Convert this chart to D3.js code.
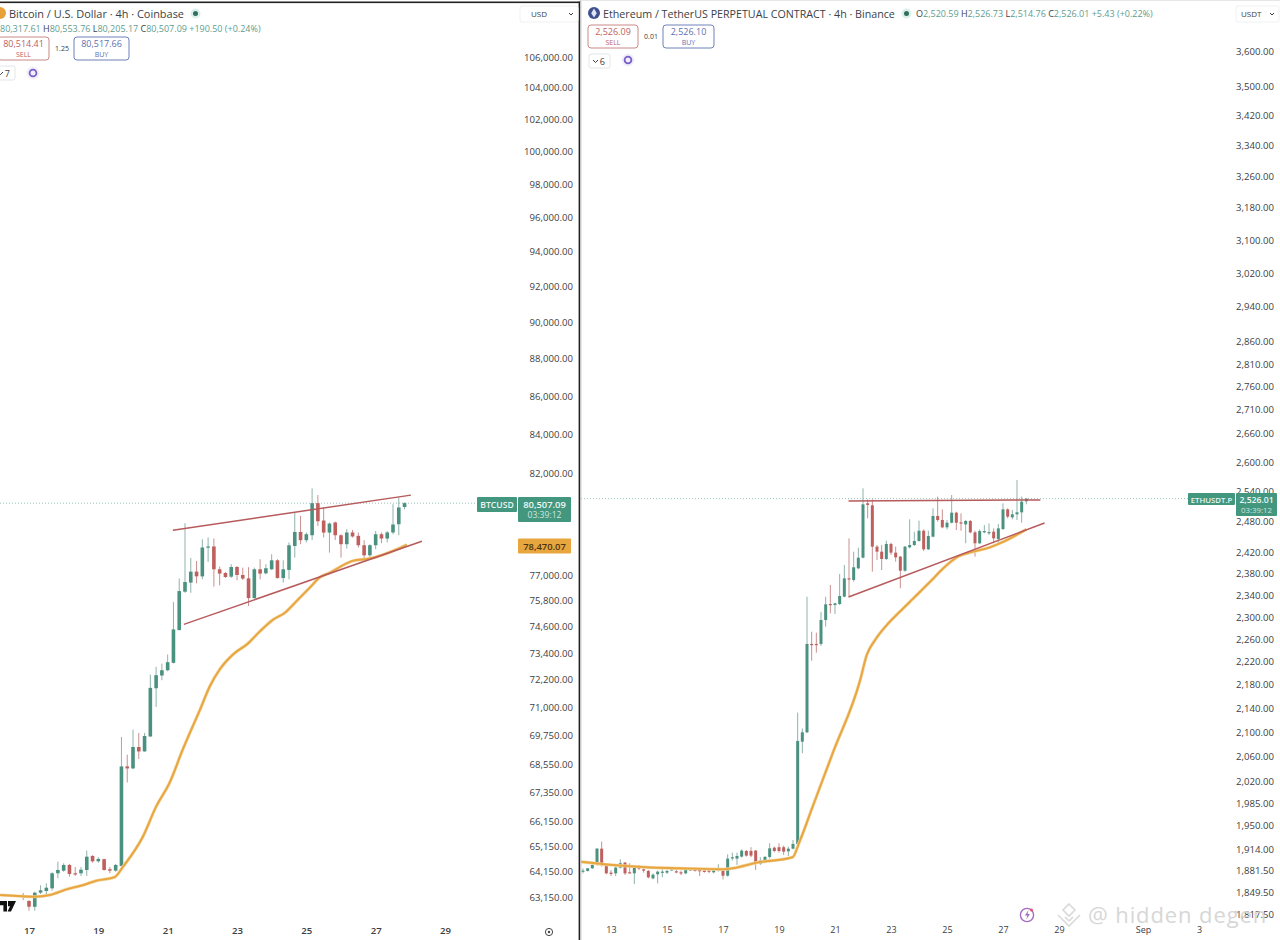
<!DOCTYPE html>
<html>
<head>
<meta charset="utf-8">
<script src="https://cdn.jsdelivr.net/npm/d3@7"></script>
<style>
  html, body { margin: 0; padding: 0; background: #fff; overflow: hidden; }
  text { font-family: "Open Sans", "Noto Sans", sans-serif; }
</style>
</head>
<body>
<script>
// candles are counted in 4h steps from the 00:00 candle of the first labelled day
var btcFirst = -1;
var btcOpen = [63210,62994,62770,63320,63384,63488,64080,64183,64410,64080,64080,64211,64770,64555,64640,64240,64183,64370,68445,68360,69270,69080,69720,71825,72390,72627,72958,74445,76230,76660,77180,76955,78335,78385,77291,77115,76940,77400,77020,76860,75930,77291,77100,77291,77720,76875,77260,78410,79090,78690,78930,80507,79650,79060,79555,78930,78495,79065,78900,78445,77960,78445,78980,78770,79065,79470,80317];
var btcHigh = [63310,63033,63356,63608,63686,64120,64541,64478,64450,64330,64330,64982,64797,64720,64660,64330,64450,69700,68940,70014,69870,69870,72435,72780,72930,73335,75745,76850,79520,77833,77690,78737,78820,78770,77420,77160,77530,77450,77370,77390,77370,77770,77530,78010,77770,77720,78580,80045,79880,79065,81245,80910,80295,79555,79600,78980,79225,79190,79065,78690,78495,79140,79065,79140,80457,80790,80553.76];
var btcLow = [63030,62619,62620,63267,63189,63395,63883,64143,63947,63975,63975,63975,64500,64500,64183,64080,64143,64280,67770,68330,68760,69070,69700,71003,72180,72580,72930,74445,76180,76180,76625,76815,77640,76470,76530,76880,76880,76770,76780,75560,75900,76815,77050,77260,76850,76660,76815,77850,78495,78580,78700,79385,78820,78090,78700,77850,78285,78820,78335,77770,77770,78252,78545,78580,78980,78930,80205.17];
var btcClose = [63150,62773,63317,63411,63513,64080,64211,64410,64053,64040,64223,64740,64555,64650,64211,64183,64410,68445,68360,69270,69080,69740,71842,72405,72627,72988,74478,76260,76686,77180,76955,78335,78385,77291,77085,76925,77400,77020,76850,75930,77291,77085,77340,77720,76875,77291,78445,79090,78690,78980,80507,79615,79060,79500,78930,78495,79065,78870,78445,77960,78445,78980,78770,79065,79455,80295,80507.09];
var btcEmaIdx = [-5,-2,1,3.6,6.5,9.4,11.7,14.8,16.3,19.7,22,24.3,26.6,29.6,31.3,33,35.3,37.9,40,42.3,44.3,46.3,48.6,50.3,52.1,56,59,63,65.4];
var btcEma = [63228,63190,63160,63228,63450,63620,63790,63925,64350,65540,66770,67740,69154,70885,71914,72659,73336,73836,74400,74939,75250,75791,76421,76896,77134,77690,77805,78170,78470];
var btcUpperIdx = [24.9,66.1], btcUpper = [79176,80907];
var btcLowerIdx = [26.8,68], btcLower = [74708,78640];
var btcTicks = [106000,104000,102000,100000,98000,96000,94000,92000,90000,88000,86000,84000,82000,77000,75800,74600,73400,72200,71000,69750,68550,67350,66150,65150,64150,63150];
var btcDayIdx = [0,12,24,36,48,60,72];
var btcDayLabels = ["17","19","21","23","25","27","29"];

var ethFirst = -6;
var ethOpen = [1880.3,1881.3,1885.3,1890.3,1914.8,1890.3,1878.8,1877.8,1886.3,1893.8,1879.3,1877.8,1887.3,1883.8,1881.3,1870.3,1876.3,1879.3,1878.8,1882.8,1880.8,1879.3,1877.8,1882.8,1883.3,1882.8,1881.8,1881.8,1879.3,1881.8,1882.8,1874.3,1900.8,1899.8,1902.8,1911.3,1911.3,1911.8,1891.8,1896.8,1902.3,1916.3,1917,1917,1910.8,1914.8,1922,2084,2099.5,2251.6,2251.6,2251.6,2294.7,2323.9,2322,2323.9,2337.5,2371.6,2368.5,2390.5,2410.7,2516.7,2512.7,2431.8,2422.2,2408.2,2437,2420.3,2412.7,2386,2430.5,2435,2442.8,2462.7,2426.7,2451.1,2491.6,2483.7,2469.3,2478.4,2498.1,2479,2475.1,2481.7,2459.5,2438.3,2460.1,2459.5,2460.8,2446.6,2466,2504.7,2488.9,2494.9,2498.8,2520.59];
var ethHigh = [1885.3,1885.8,1891.3,1915.8,1925.5,1891.3,1882.8,1887.8,1898.8,1894.8,1892.8,1888.8,1890.3,1885.3,1882.8,1877.8,1881.8,1885.3,1882.8,1885.3,1882.8,1881.8,1884.3,1885.3,1884.8,1883.8,1882.8,1882.8,1883.8,1891.3,1885.3,1906.3,1908.8,1908.8,1913.8,1912.8,1917,1912.8,1901.8,1903.8,1923,1918,1923,1919.5,1918,1928,2132.4,2106,2337.4,2273.5,2271.7,2309.3,2337.4,2359.2,2326.4,2379.8,2396.8,2447.9,2422.2,2429.9,2546.6,2524.6,2524.6,2435,2435,2443.4,2439.5,2431.8,2413.9,2433.1,2485,2460.8,2482.4,2465.3,2462.7,2506.7,2530,2504.7,2483.7,2533.3,2500.1,2496.8,2483.7,2483.7,2462.7,2465.3,2473.8,2477,2467.3,2475.8,2516.7,2506.7,2503.4,2563.5,2530,2526.73];
var ethLow = [1877.8,1880.3,1884.3,1889.3,1887.8,1876.3,1873.8,1873.8,1885.3,1875.3,1877.8,1861.8,1882.8,1878.8,1870.3,1868.8,1862.8,1871.8,1876.8,1881.8,1877.8,1875.3,1876.3,1881.8,1880.3,1873.8,1878.8,1877.8,1877.8,1880.3,1868.8,1872.8,1896.8,1890.3,1901.3,1902.8,1901.8,1882.8,1890.3,1892.8,1899.8,1909.3,1908.8,1905.3,1903.8,1913.8,1920.3,2065,2098,2222,2236,2248,2282.6,2306.8,2305.6,2322,2336.2,2337.5,2365.4,2388.6,2409.5,2487,2384.2,2406.3,2387.3,2406.3,2415.9,2403.1,2352.9,2384.2,2428.6,2433.1,2441.5,2423.5,2425.4,2449.9,2480.4,2467.3,2465.3,2477,2464,2462.7,2438.3,2457.5,2412.7,2437,2457.5,2454.2,2438.3,2435,2464,2487,2485,2483.7,2478.4,2514.76];
var ethClose = [1881.8,1885.3,1890.3,1914.8,1890.3,1877.8,1876.8,1886.3,1892.8,1877.8,1878.8,1886.3,1884.8,1881.8,1871.8,1875.8,1880.3,1880.3,1881.3,1883.8,1879.3,1877.8,1882.8,1883.8,1881.3,1880.8,1879.8,1880.3,1882.3,1883.8,1874.3,1899.8,1901.8,1903.8,1911.8,1904.3,1904.3,1891.8,1896.8,1902.3,1915.3,1911.3,1911.3,1910.3,1914.8,1922,2085.2,2099.5,2251.6,2249.8,2250.5,2294.7,2323.3,2322,2325.1,2338.7,2371.6,2369.7,2392.4,2410.7,2514.7,2513.4,2431.8,2422.2,2408.2,2437,2420.3,2411.4,2386,2431.8,2435,2442.8,2462.7,2426.7,2452.4,2491.6,2483.7,2469.3,2478.4,2498.1,2478.4,2477.8,2481.7,2459.5,2438.3,2462,2462,2460.1,2447.9,2467.3,2504.7,2490.3,2494.9,2498.8,2520,2526.01];
var ethEmaIdx = [-6.7,0.4,7.6,14.7,23.9,26.1,31.2,38.9,40.4,43.2,47.5,53.4,54.8,56.6,59.1,61.9,64.8,68.4,71.2,74.1,77.6,81.2,84,89];
var ethEma = [1895.2,1890.2,1886.8,1885.3,1883.8,1885.3,1893.7,1901.8,1925.4,1979.4,2065,2188.3,2232,2258.7,2285.6,2309.8,2334.4,2365.3,2390.5,2411.4,2422.1,2430.6,2441,2465.4];
var ethUpperIdx = [50.9,92], ethUpper = [2521.3,2523.3];
var ethLowerIdx = [50.9,92.9], ethLower = [2336.8,2477.8];
var ethTicks = [3600,3500,3420,3340,3260,3180,3100,3020,2940,2860,2810,2760,2710,2660,2600,2540,2480,2420,2380,2340,2300,2260,2220,2180,2140,2100,2060,2020,1985,1950,1914,1881.5,1849.5,1817.5];
var ethDayIdx = [0,12,24,36,48,60,72,84,96,114,126];
var ethDayLabels = ["13","15","17","19","21","23","25","27","29","Sep","3"];

var green = "#4b917f", red = "#bf5f5e", wickGreen = "#8fb3aa", wickRed = "#c98f8e";
var orange = "#e8a63f", trend = "#b65a5c", teal = "#43977f", textCol = "#3c4043";

var fmt = d3.format(",.2f");

var svg = d3.select("body").append("svg")
  .attr("width", 1280)
  .attr("height", 940)
  .style("display", "block")
  .style("background", "#fff");

var defs = svg.append("defs");

function drawChart(cfg) {
  var clipId = "clip-" + cfg.name;
  defs.append("clipPath").attr("id", clipId).append("rect")
    .attr("x", cfg.left).attr("y", 0).attr("width", cfg.axisX - cfg.left).attr("height", 922);

  var x = d3.scaleLinear().domain(cfg.xDomain).range(cfg.xRange);
  var y = d3.scaleLog().domain(cfg.yDomain).range(cfg.yRange);

  var candles = cfg.open.map(function(o, k) {
    return { i: k + cfg.first, o: o, h: cfg.high[k], l: cfg.low[k], c: cfg.close[k] };
  });

  var g = svg.append("g").attr("clip-path", "url(#" + clipId + ")");

  // last price dotted line
  g.append("line")
    .attr("x1", cfg.left).attr("x2", cfg.lastLabelX)
    .attr("y1", y(cfg.last)).attr("y2", y(cfg.last))
    .attr("stroke", "#7fb3a6").attr("stroke-width", 0.8).attr("stroke-dasharray", "1 2");

  g.selectAll(".wick").data(candles).enter().append("line")
    .attr("class", "wick")
    .attr("x1", function(d) { return x(d.i); })
    .attr("x2", function(d) { return x(d.i); })
    .attr("y1", function(d) { return y(d.h); })
    .attr("y2", function(d) { return y(d.l); })
    .attr("stroke", function(d) { return d.c >= d.o ? wickGreen : wickRed; })
    .attr("stroke-width", 1);

  g.selectAll(".body").data(candles).enter().append("rect")
    .attr("class", "body")
    .attr("x", function(d) { return x(d.i) - cfg.bodyW / 2; })
    .attr("width", cfg.bodyW)
    .attr("y", function(d) { return y(Math.max(d.o, d.c)); })
    .attr("height", function(d) { return Math.max(1.2, Math.abs(y(d.o) - y(d.c))); })
    .attr("fill", function(d) { return d.c >= d.o ? green : red; });

  // moving average, with the soft halo it has in the screenshot
  var emaPts = cfg.emaIdx.map(function(v, k) { return [v, cfg.ema[k]]; });
  var lineGen = d3.line()
    .x(function(d) { return x(d[0]); })
    .y(function(d) { return y(d[1]); })
    .curve(d3.curveMonotoneX);
  g.append("path").attr("d", lineGen(emaPts)).attr("fill", "none")
    .attr("stroke", "#f3d39f").attr("stroke-width", 3.2);
  g.append("path").attr("d", lineGen(emaPts)).attr("fill", "none")
    .attr("stroke", orange).attr("stroke-width", 1.9);

  // trend lines
  [[cfg.upperIdx, cfg.upper], [cfg.lowerIdx, cfg.lower]].forEach(function(t) {
    g.append("line")
      .attr("x1", x(t[0][0])).attr("x2", x(t[0][1]))
      .attr("y1", y(t[1][0])).attr("y2", y(t[1][1]))
      .attr("stroke", trend).attr("stroke-width", 1.5);
  });

  // price axis
  var yAxis = d3.axisLeft(y).tickValues(cfg.ticks).tickSize(0).tickPadding(0).tickFormat(fmt);
  var ya = svg.append("g").attr("transform", "translate(" + cfg.axisRight + ",0)").call(yAxis);
  ya.select(".domain").remove();
  ya.selectAll("text").attr("font-size", 9.6).attr("fill", textCol)
    .style("font-family", '"Open Sans", sans-serif');

  // time axis
  var xAxis = d3.axisBottom(x).tickValues(cfg.dayIdx).tickSize(0).tickPadding(0)
    .tickFormat(function(d, k) { return cfg.dayLabels[k]; });
  var xa = svg.append("g").attr("transform", "translate(0,927)").call(xAxis);
  xa.select(".domain").remove();
  xa.selectAll("text").attr("font-size", cfg.dayFont).attr("font-weight", cfg.dayWeight).attr("fill", textCol)
    .style("font-family", '"Open Sans", sans-serif');

  return { x: x, y: y };
}

function label(txt, px, py, size, col, anchor, weight) {
  return svg.append("text").attr("x", px).attr("y", py).attr("font-size", size)
    .attr("fill", col).attr("text-anchor", anchor || "start")
    .attr("font-weight", weight || 400).text(txt);
}

function tag(px, py, w, h, col) {
  return svg.append("rect").attr("x", px).attr("y", py).attr("width", w).attr("height", h)
    .attr("rx", 1).attr("fill", col);
}

function tradeBox(px, py, w, price, word, col, border) {
  svg.append("rect").attr("x", px).attr("y", py).attr("width", w).attr("height", 23).attr("rx", 3)
    .attr("fill", "#fff").attr("stroke", border).attr("stroke-width", 1);
  label(price, px + w / 2, py + 10, 9, col, "middle");
  label(word, px + w / 2, py + 19.5, 7, col, "middle");
}

function ring(cx, cy) {
  svg.append("circle").attr("cx", cx).attr("cy", cy).attr("r", 6.5).attr("fill", "#7a5fc9").attr("opacity", 0.1);
  svg.append("circle").attr("cx", cx).attr("cy", cy).attr("r", 3.4)
    .attr("fill", "none").attr("stroke", "#7a5fc9").attr("stroke-width", 1.8);
}

function counter(px, py, w, word) {
  svg.append("rect").attr("x", px).attr("y", py).attr("width", w).attr("height", 14).attr("rx", 2)
    .attr("fill", "#fff").attr("stroke", "#e3e5e8");
  label(word, px + w - 5, py + 10.5, 9, textCol, "end");
  svg.append("path").attr("d", "M" + (px + w - 17) + " " + (py + 6) + "l2.5 2.5l2.5 -2.5")
    .attr("fill", "none").attr("stroke", textCol).attr("stroke-width", 1);
}

drawChart({
  name: "btc", left: 0, axisX: 518, axisRight: 573, lastLabelX: 477, last: 80507.09,
  first: btcFirst, open: btcOpen, high: btcHigh, low: btcLow, close: btcClose,
  emaIdx: btcEmaIdx, ema: btcEma,
  upperIdx: btcUpperIdx, upper: btcUpper, lowerIdx: btcLowerIdx, lower: btcLower,
  ticks: btcTicks, dayIdx: btcDayIdx, dayLabels: btcDayLabels, dayFont: 9.6, dayWeight: 600,
  xDomain: [0, 72], xRange: [29, 445], yDomain: [63150, 106000], yRange: [897, 57], bodyW: 3.6
});

drawChart({
  name: "eth", left: 581, axisX: 1188, axisRight: 1274, lastLabelX: 1188, last: 2526.01,
  first: ethFirst, open: ethOpen, high: ethHigh, low: ethLow, close: ethClose,
  emaIdx: ethEmaIdx, ema: ethEma,
  upperIdx: ethUpperIdx, upper: ethUpper, lowerIdx: ethLowerIdx, lower: ethLower,
  ticks: ethTicks, dayIdx: ethDayIdx, dayLabels: ethDayLabels, dayFont: 9, dayWeight: 400,
  xDomain: [0, 96], xRange: [611, 1059], yDomain: [3600, 1849.5], yRange: [51, 892.5], bodyW: 3
});

// panel frame: the left chart is the selected one
svg.append("rect").attr("x", 0).attr("y", 1.5).attr("width", 580).attr("height", 1.6).attr("fill", "#222");
svg.append("rect").attr("x", 578.6).attr("y", 1.5).attr("width", 1.6).attr("height", 938.5).attr("fill", "#222");
svg.append("rect").attr("x", 580.2).attr("y", 0).attr("width", 1.2).attr("height", 940).attr("fill", "#c4c4c4");
svg.append("rect").attr("x", 581).attr("y", 0).attr("width", 699).attr("height", 1).attr("fill", "#e6e6e6");

// left header
svg.append("circle").attr("cx", 0).attr("cy", 13).attr("r", 6).attr("fill", "#e8a13a");
label("Bitcoin / U.S. Dollar · 4h · Coinbase", 9, 17.5, 10.95, "#3b3f46");
svg.append("circle").attr("cx", 195.5).attr("cy", 13.5).attr("r", 5).attr("fill", "#dcefe8");
svg.append("circle").attr("cx", 195.5).attr("cy", 13.5).attr("r", 2.5).attr("fill", "#2f6f5f");

var ohlcL = svg.append("text").attr("x", 0).attr("y", 31.5).attr("font-size", 9).attr("fill", "#5f9d8e");
[["80,317.61 ", 0], ["H", 1], ["80,553.76 ", 0], ["L", 1], ["80,205.17 ", 0], ["C", 1], ["80,507.09 +190.50 (+0.24%)", 0]].forEach(function(p) {
  ohlcL.append("tspan").attr("fill", p[1] ? "#3c4043" : "#5f9d8e").text(p[0]);
});
tradeBox(-2, 37, 51, "80,514.41", "SELL", "#c0605f", "#c98a88");
label("1.25", 62, 51, 7, textCol, "middle");
tradeBox(74, 37, 55, "80,517.66", "BUY", "#5d70b0", "#6f80b8");
counter(-6, 66, 21, "7");
ring(33, 73);

// right header
svg.append("circle").attr("cx", 594).attr("cy", 13).attr("r", 6).attr("fill", "#3f4f8f");
svg.append("path").attr("d", "M594 8.5l2.8 4.7l-2.8 4.3l-2.8 -4.3z").attr("fill", "#dfe3f2");
label("Ethereum / TetherUS PERPETUAL CONTRACT · 4h · Binance", 603, 17.5, 10.7, "#3b3f46");
svg.append("circle").attr("cx", 906.5).attr("cy", 13.5).attr("r", 5).attr("fill", "#dcefe8");
svg.append("circle").attr("cx", 906.5).attr("cy", 13.5).attr("r", 2.5).attr("fill", "#2f6f5f");
var ohlcR = svg.append("text").attr("x", 916).attr("y", 17).attr("font-size", 9).attr("fill", "#5f9d8e");
[["O", 1], ["2,520.59 ", 0], ["H", 1], ["2,526.73 ", 0], ["L", 1], ["2,514.76 ", 0], ["C", 1], ["2,526.01 +5.43 (+0.22%)", 0]].forEach(function(p) {
  ohlcR.append("tspan").attr("fill", p[1] ? "#3c4043" : "#5f9d8e").text(p[0]);
});
tradeBox(588, 25, 50, "2,526.09", "SELL", "#c0605f", "#c98a88");
label("0.01", 651, 39, 7, textCol, "middle");
tradeBox(663, 25, 51, "2,526.10", "BUY", "#5d70b0", "#6f80b8");
counter(589, 54, 21, "6");
ring(628, 60);

// currency buttons
[[531, 571, "USD", 520], [1241, 1272, "USDT", 1236]].forEach(function(c) {
  label(c[2], c[0], 17, 8, textCol);
  svg.append("path").attr("d", "M" + (c[1] - 2) + " 13l2 2l2 -2")
    .attr("fill", "none").attr("stroke", textCol).attr("stroke-width", 1);
  svg.append("rect").attr("x", c[3]).attr("y", 6).attr("width", c[1] + 7 - c[3]).attr("height", 16).attr("rx", 2)
    .attr("fill", "none").attr("stroke", "#f0f1f3");
});

// price tags
tag(477, 497, 40, 15, teal);
label("BTCUSD", 497, 508, 8.6, "#eaf5f2", "middle", 600);
tag(518, 497, 53, 25, teal);
label("80,507.09", 544.5, 507.5, 9.4, "#eef7f4", "middle", 600);
label("03:39:12", 544.5, 518, 8.6, "#cfe6df", "middle");
tag(518, 538.5, 53, 15, orange);
label("78,470.07", 544.5, 549.5, 9.4, "#4d3410", "middle", 600);

tag(1188, 493, 47, 12, teal);
label("ETHUSDT.P", 1211.5, 502.5, 7.8, "#eaf5f2", "middle", 600);
tag(1236, 493, 41, 23, teal);
label("2,526.01", 1256.5, 502.5, 8.6, "#eef7f4", "middle", 600);
label("03:39:12", 1256.5, 513, 7.8, "#cfe6df", "middle");

// TradingView mark, cut off by the left edge
svg.append("path").attr("d", "M0 901h7v10.5h-3.6v-6.2h-3.4zM8 901h8l-5 10.5h-3.4l2.4 -5.2h-2z").attr("fill", "#111");

// settings ring under the left axis
svg.append("circle").attr("cx", 549).attr("cy", 932).attr("r", 3.6).attr("fill", "none").attr("stroke", "#444").attr("stroke-width", 1);
svg.append("circle").attr("cx", 549).attr("cy", 932).attr("r", 1.2).attr("fill", "#444");

// bolt badge
svg.append("circle").attr("cx", 1027).attr("cy", 915).attr("r", 6.6).attr("fill", "#fff").attr("stroke", "#a46cc0").attr("stroke-width", 1.4);
svg.append("path").attr("d", "M1028.5 910l-3.6 5.6h2.4l-1 4l3.6 -5.6h-2.4z").attr("fill", "#a46cc0");
svg.append("circle").attr("cx", 1031.5).attr("cy", 910).attr("r", 1.5).attr("fill", "#e0566b");

// watermark goes on top of everything
var wm = svg.append("g").attr("fill", "none").attr("stroke", "#d7d7d7").attr("stroke-width", 1.6).attr("opacity", 0.95);
wm.append("path").attr("d", "M1069 904l6 6l-6 6l-6 -6zM1058 915l5 5l6 6l6 -6l5 -5M1069 921l-4 -4M1069 921l4 -4");
label("@ hidden degen", 1088, 923, 22, "#d4d4d4").attr("letter-spacing", 0.9).style("font-family", '"Open Sans", sans-serif').attr("opacity", 0.92);
</script>
</body>
</html>
